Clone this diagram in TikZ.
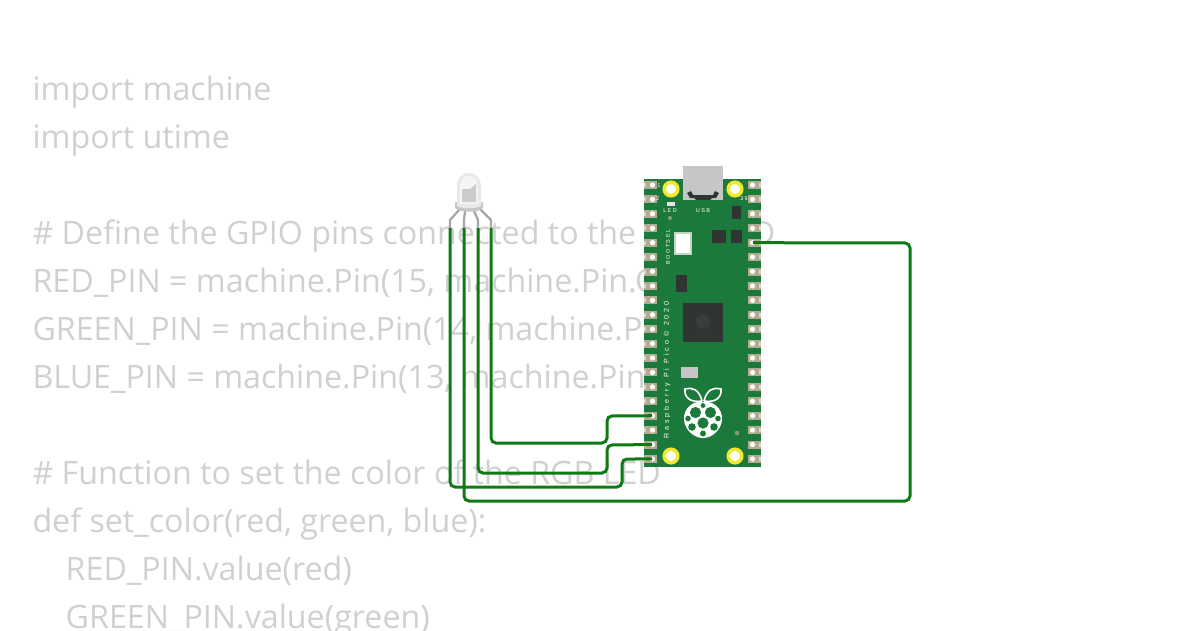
\documentclass[tikz,border=0pt]{standalone}
\usepackage{fontspec}
\setmainfont{Open Sans}
\newfontfamily\boardfont[LetterSpace=25]{Liberation Sans}
\newfontfamily\picofont[LetterSpace=41]{Liberation Sans}
\definecolor{pcbgreen}{HTML}{1B7A3B}
\definecolor{wiregreen}{HTML}{0F7A14}
\definecolor{padtan}{HTML}{B3AC93}
\definecolor{holeyellow}{HTML}{F2E92C}
\definecolor{codegray}{HTML}{D0D0D0}
\definecolor{chipgray}{HTML}{2F3533}
\tikzset{
  codeline/.style={anchor=base west, inner sep=0pt, text=codegray, font=\fontsize{32.2}{40}\selectfont},
  wire/.style={draw=wiregreen, line width=3pt, rounded corners=5pt},
  chip/.style={fill=chipgray, draw=none},
  ledleg/.style={draw=gray!70, line width=2.2pt, line join=round},
  silk/.style={text=white, inner sep=0pt, font=\boardfont\fontsize{5.5}{6}\selectfont},
  mounthole/.style={circle, fill=white, draw=holeyellow, line width=3.6pt, minimum size=13.5pt, inner sep=0pt},
}
\begin{document}
\begin{tikzpicture}[x=1pt,y=-1pt]
\useasboundingbox (0,0) rectangle (1200,630);
% code behind the circuit
\foreach \name/\ypos/\xpos/\txt in {
  l1/100/32.3/{import machine},
  l2/148/32.3/{import utime},
  l3/244/32.3/{\# Define the GPIO pins connected to the RGB LED},
  l4/292/32.3/{RED\_PIN = machine.Pin(15, machine.Pin.OUT)},
  l5/340/32.3/{GREEN\_PIN = machine.Pin(14, machine.Pin.OUT)},
  l6/388/32.3/{BLUE\_PIN = machine.Pin(13, machine.Pin.OUT)},
  l7/484/32.3/{\# Function to set the color of the RGB LED},
  l8/532/32.3/{def set\_color(red, green, blue):},
  l9/580/65.5/{RED\_PIN.value(red)},
  l10/628/65.5/{GREEN\_PIN.value(green)}}
  \node[codeline] (\name) at (\xpos,\ypos) {\txt};
% board
\fill[pcbgreen] (644,179) rectangle (761,467);
\foreach \i in {1,...,20}{
  \pgfmathsetmacro{\ypin}{185+(\i-1)*14.42}
  \fill[padtan] (644,\ypin-4) rectangle (657,\ypin+4);
  \fill[padtan] (748,\ypin-4) rectangle (761,\ypin+4);
  \fill[white!50!padtan] (644,\ypin-2) rectangle (646,\ypin+2);
  \fill[white!50!padtan] (759,\ypin-2) rectangle (761,\ypin+2);
  \fill[white] (652.5,\ypin) circle (2.6);
  \fill[white] (752.5,\ypin) circle (2.6);
  \coordinate (pl\i) at (652,\ypin);
  \coordinate (pr\i) at (753,\ypin);
}
\fill[gray!45] (683,166) rectangle (723,200);
\fill[chipgray] (687,193) -- (691,191) -- (693,195) -- (713,195) -- (715,191) -- (719,193) -- (716,198) -- (712,198) -- (710,200) -- (696,200) -- (694,198) -- (690,198) -- cycle;
\node[mounthole] (h1) at (671,189) {};
\node[mounthole] (h2) at (735,189) {};
\node[mounthole] (h3) at (671,456) {};
\node[mounthole] (h4) at (735,456) {};
\fill[chip] (732,206) rectangle (741,219);
\fill[chip] (712,230) rectangle (726,243);
\fill[chip] (731,230) rectangle (742,243);
\fill[chip] (676,275) rectangle (687,292);
\fill[chip] (683,303) rectangle (723,342);
\fill[gray!12!chipgray] (703,322) circle (7);
\fill[gray!45] (681,367) rectangle (698,378);
\fill[green!15!gray!40] (674,232) rectangle (692,255);
\fill[white] (676,234) rectangle (690,253);
\fill[white!80!gray] (667,202) rectangle (675,205.5);
\fill[padtan!70!pcbgreen] (670,218) circle (2);
\fill[padtan!70!pcbgreen] (737,433) circle (2.3);
\node[silk] (ledtxt) at (670,211) {LED};
\node[silk] (usbtxt) at (703,211) {USB};
\node[silk] (pin1txt) at (659,186) {1};
\node[silk] (pin2txt) at (658,199) {2};
\node[silk] (pin39txt) at (744,199) {39};
\node[silk, rotate=90] (boottxt) at (668,247) {BOOTSEL};
\node[silk, rotate=90, font=\picofont\fontsize{7.1}{8}\selectfont] (picotxt) at (667,370) {Raspberry Pi Pico © 2020};
% raspberry logo
\draw[white, line width=1.6pt, fill=pcbgreen] (702,401) .. controls (699,389) and (692,387) .. (685,389) .. controls (684,397) and (690,403) .. (702,401);
\draw[white, line width=1.6pt, fill=pcbgreen] (704,401) .. controls (707,389) and (714,387) .. (721,389) .. controls (722,397) and (716,403) .. (704,401);
\fill[white] (703,402) .. controls (712,400) and (723,408) .. (722,420) .. controls (721,430) and (712,438) .. (703,438) .. controls (694,438) and (685,430) .. (684,420) .. controls (683,408) and (694,400) .. (703,402) -- cycle;
\foreach \xb/\yb/\rb in {703/405.5/2.4, 695.5/412.5/5.6, 710.5/412.5/5.6, 703/423/5.6, 688/418.5/2.8, 718/418.5/2.8, 692/427/3.8, 714/427/3.8, 703/433.5/3}
  \fill[pcbgreen] (\xb,\yb) circle (\rb);
% rgb led
\coordinate (leg1) at (450,228);
\coordinate (leg2) at (464,228);
\coordinate (leg3) at (478,228);
\coordinate (leg4) at (491,228);
\draw[ledleg] (460,209) -- (450,220) -- (leg1);
\draw[ledleg] (465,211) -- (464,220) -- (leg2);
\draw[ledleg] (474,211) -- (478,220) -- (leg3);
\draw[ledleg] (480,209) -- (491,220) -- (leg4);
\fill[gray!45] (455,202) -- (483,202) -- (483,208) .. controls (478,213) and (460,213) .. (455,208) -- cycle;
\fill[gray!18] (457,206) -- (457,187) .. controls (457,168) and (481,168) .. (481,187) -- (481,206) .. controls (475,209) and (463,209) .. (457,206) -- cycle;
\fill[white, opacity=.6] (460,204) -- (460,187) .. controls (460,172) and (478,172) .. (478,187) -- (478,204) -- cycle;
\fill[gray!40] (462,189) -- (470,189) -- (476,184) -- (476,202) -- (462,202) -- cycle;
% wires
\draw[wire] (leg4) -- (491,443) -- (607,443) -- (607,416) -- (pl17);
\draw[wire] (leg3) -- (478,473) -- (607,473) -- (607,445) -- (pl19);
\draw[wire] (leg1) -- (450,487) -- (622,487) -- (622,459) -- (pl20);
\draw[wire] (leg2) -- (464,501) -- (910,501) -- (910,243) -- (pr5);
\end{tikzpicture}
\end{document}
